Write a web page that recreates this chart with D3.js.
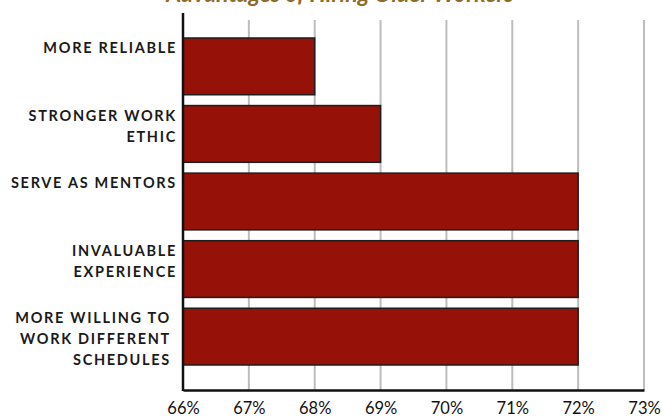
<!DOCTYPE html>
<html>
<head>
<meta charset="utf-8">
<script src="https://cdn.jsdelivr.net/npm/d3@7"></script>
<style>
  body { margin: 0; background: #fff; }
  svg { display: block; }
</style>
</head>
<body>
<svg width="662" height="419"></svg>
<script>
// chart data
const categories = [
  ['MORE RELIABLE'],
  ['STRONGER WORK', 'ETHIC'],
  ['SERVE AS MENTORS'],
  ['INVALUABLE', 'EXPERIENCE'],
  ['MORE WILLING TO', 'WORK DIFFERENT', 'SCHEDULES']
];
const values = [68, 69, 72, 72, 72];
const tickValues = [66, 67, 68, 69, 70, 71, 72, 73];
const title = 'Advantages of Hiring Older Workers';

const svg = d3.select('svg');
const plotLeft = 183, plotRight = 644, plotTop = 13, plotBottom = 390;

const x = d3.scaleLinear().domain([66, 73]).range([plotLeft, plotRight]);
const y = d3.scaleBand()
  .domain(d3.range(values.length))
  .range([plotTop, plotBottom])
  .paddingInner(0.16)
  .paddingOuter(0.37);

// title, mostly cut off above the frame (as in the source image)
svg.append('text')
  .attr('x', 340)
  .attr('y', 2)
  .attr('text-anchor', 'middle')
  .attr('font-family', 'Lato, sans-serif')
  .attr('font-size', 23)
  .attr('font-weight', 'bold')
  .attr('font-style', 'italic')
  .attr('fill', '#8f6b2c')
  .text(title);

// gridlines
svg.append('g')
  .selectAll('line')
  .data(tickValues.slice(1))
  .join('line')
    .attr('x1', d => x(d))
    .attr('x2', d => x(d))
    .attr('y1', 20)
    .attr('y2', plotBottom)
    .attr('stroke', '#bdbdbd')
    .attr('stroke-width', 2);

// bars
svg.append('g')
  .selectAll('rect')
  .data(values)
  .join('rect')
    .attr('x', x(66))
    .attr('y', (d, i) => y(i))
    .attr('width', d => x(d) - x(66))
    .attr('height', y.bandwidth())
    .attr('fill', '#961108')
    .attr('stroke', '#1e1e1e')
    .attr('stroke-width', 1.5);

// axes
const xAxis = svg.append('g')
  .attr('transform', `translate(0,${plotBottom})`)
  .call(d3.axisBottom(x).tickValues(tickValues).tickSize(0).tickPadding(12).tickFormat(d => d + '%'));
xAxis.select('.domain').attr('stroke', '#111').attr('stroke-width', 2.5);
xAxis.selectAll('text')
  .attr('font-family', 'Lato, sans-serif')
  .attr('font-size', 16.5)
  .attr('fill', '#111');

svg.append('line')
  .attr('x1', plotLeft).attr('x2', plotLeft)
  .attr('y1', plotTop).attr('y2', plotBottom + 1)
  .attr('stroke', '#111')
  .attr('stroke-width', 2.5);

// category labels, wrapped
const labels = svg.append('g')
  .selectAll('text')
  .data(categories)
  .join('text')
    .attr('text-anchor', 'end')
    .attr('font-family', 'Lato, sans-serif')
    .attr('font-size', 14.5)
    .attr('font-weight', 'bold')
    .attr('letter-spacing', 1.7)
    .attr('fill', '#1a1a1a');

labels.selectAll('tspan')
  .data((d, i) => d.map(t => ({ t, i })))
  .join('tspan')
    .attr('x', (d, j) => categories[d.i].length > 2 ? plotLeft - 12 : plotLeft - 6)
    .attr('y', (d, j) => y(d.i) + 15 + j * 21)
    .text(d => d.t);
</script>
</body>
</html>
